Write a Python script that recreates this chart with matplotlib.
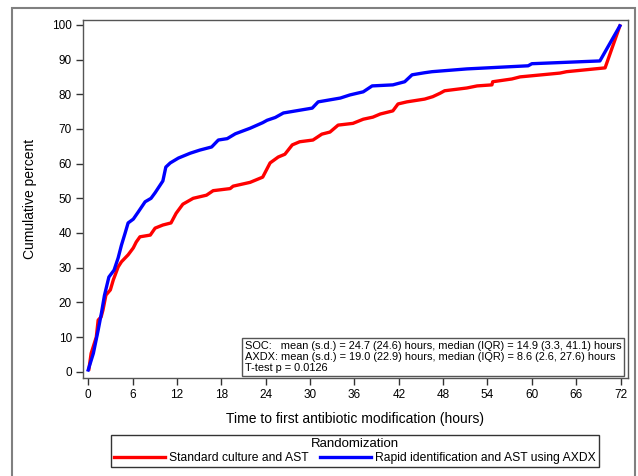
import matplotlib
matplotlib.use('Agg')
import matplotlib.pyplot as plt
from matplotlib.patches import Rectangle

plt.rcParams['font.family'] = ['Liberation Sans', 'DejaVu Sans']

# time to first antibiotic modification (hours) vs cumulative percent
soc_hours = [0.1, 0.4, 1.1, 1.35, 1.75, 2.0, 2.4, 3.0, 3.4, 3.65, 4.05, 4.5, 5.4, 6.1, 6.5,
             7.0, 8.4, 9.05, 10.1, 11.2, 11.9, 12.8, 14.2, 16.0, 16.9, 19.2, 19.6, 21.9,
             23.6, 24.6, 25.7, 26.6, 27.6, 28.6, 30.4, 31.6, 32.7, 33.8, 35.8, 37.2, 38.5,
             39.5, 41.2, 41.9, 43.1, 45.5, 46.6, 47.6, 48.2, 51.2, 52.6, 54.6, 54.7, 57.3,
             58.4, 63.8, 64.7, 69.9, 71.9]
soc_pct = [0.8, 5.3, 10.0, 14.9, 15.8, 17.8, 22.1, 23.6, 26.5, 27.9, 30.2, 31.7, 33.7, 35.7,
           37.4, 38.9, 39.4, 41.4, 42.3, 42.9, 45.7, 48.3, 50.0, 50.9, 52.2, 52.8, 53.5, 54.6,
           56.1, 60.2, 61.9, 62.7, 65.4, 66.3, 66.8, 68.5, 69.1, 71.1, 71.6, 72.8, 73.4, 74.3,
           75.2, 77.2, 77.8, 78.6, 79.3, 80.3, 81.0, 81.8, 82.4, 82.7, 83.6, 84.4, 85.0, 86.1,
           86.5, 87.6, 99.7]

axdx_hours = [0.0, 0.7, 1.35, 1.8, 2.2, 2.8, 3.5, 4.05, 4.5, 5.0, 5.4, 6.1, 6.75, 7.7, 8.5,
              9.05, 10.1, 10.5, 11.1, 12.2, 13.8, 15.1, 16.7, 17.6, 18.8, 19.9, 21.9, 23.6,
              24.2, 25.3, 26.4, 30.3, 31.1, 34.1, 35.4, 37.2, 38.4, 41.2, 42.8, 43.8, 45.5,
              46.5, 51.2, 59.5, 60.0, 69.2, 71.9]
axdx_pct = [0.5, 5.3, 12.0, 17.0, 22.0, 27.3, 29.3, 32.8, 36.5, 40.0, 42.9, 44.0, 46.0, 49.0,
            50.0, 51.6, 55.0, 59.0, 60.2, 61.6, 63.0, 63.9, 64.8, 66.8, 67.2, 68.6, 70.2, 71.8,
            72.5, 73.3, 74.6, 76.0, 77.8, 78.9, 79.8, 80.7, 82.4, 82.7, 83.6, 85.6, 86.2, 86.5,
            87.3, 88.2, 88.8, 89.6, 99.7]

x_ticks = list(range(0, 73, 6))
y_ticks = list(range(0, 101, 10))

stats_text = ('SOC:   mean (s.d.) = 24.7 (24.6) hours, median (IQR) = 14.9 (3.3, 41.1) hours\n'
              'AXDX: mean (s.d.) = 19.0 (22.9) hours, median (IQR) = 8.6 (2.6, 27.6) hours\n'
              'T-test p = 0.0126')

W, H = 638, 476
fig = plt.figure(figsize=(W / 100, H / 100), dpi=100)
fig.patches.append(Rectangle((12 / W, -0.02), (635 - 12) / W, (H - 8) / H + 0.02,
                             transform=fig.transFigure, fill=False, ec='#808080', lw=1.5))

ax = fig.add_axes([83 / W, (H - 378) / H, (628 - 83) / W, (378 - 20) / H])
ax.plot(soc_hours, soc_pct, color='#ff0000', lw=2.4, label='Standard culture and AST')
ax.plot(axdx_hours, axdx_pct, color='#0000ff', lw=2.4, label='Rapid identification and AST using AXDX')

ax.set_xlim(-0.7, 73)
ax.set_ylim(-1.8, 101.4)
ax.set_xticks(x_ticks)
ax.set_yticks(y_ticks)
ax.tick_params(direction='out', length=5, width=1, color='#333333', labelsize=8.5, pad=3)
for s in ax.spines.values():
    s.set_color('#555555')
    s.set_linewidth(1)

ax.set_xlabel('Time to first antibiotic modification (hours)', fontsize=10, labelpad=8)
ax.set_ylabel('Cumulative percent', fontsize=10, labelpad=11)

ax.text(0.988, 0.014, stats_text, transform=ax.transAxes, ha='right', va='bottom',
        fontsize=7.9, multialignment='left', linespacing=1.12,
        bbox=dict(boxstyle='square,pad=0.25', fc='white', ec='#555555', lw=1))

leg = fig.legend(loc='center', bbox_to_anchor=(355 / W, (H - 451) / H), ncol=2,
                 title='Randomization', fontsize=8.7, title_fontsize=9.5,
                 frameon=True, fancybox=False, edgecolor='black', handlelength=4.2,
                 handletextpad=0.4, columnspacing=0.9, borderpad=0.2, labelspacing=0.2,
                 borderaxespad=0)
leg.get_frame().set_linewidth(1)

fig.savefig('out.png', dpi=100)
